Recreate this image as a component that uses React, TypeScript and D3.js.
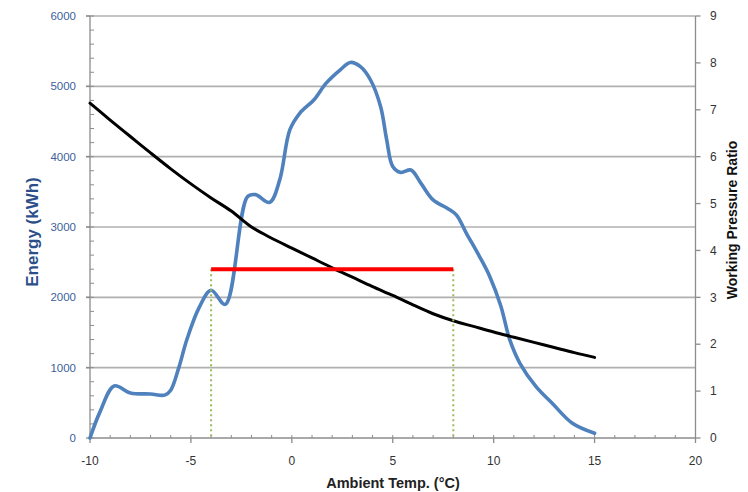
import React from "react";
import * as d3 from "d3";

const energyT = [-10, -9.5, -8.8, -8, -7, -6.3, -6, -5.6, -5.2, -4.6, -4, -3.3, -2.2, -1.8, -1.1, -0.6, -0.1, 0.4, 1.1, 1.7, 2.4, 2.9, 3.4, 3.9, 4.4, 4.7, 5.0, 5.4, 5.9, 6.4, 7.0, 7.7, 8.15, 8.65, 9.3, 9.8, 10.35, 10.8, 11.3, 12.1, 12.9, 13.9, 15];
const energyE = [0, 375, 740, 640, 625, 610, 680, 1000, 1400, 1850, 2100, 1900, 3430, 3460, 3350, 3670, 4380, 4620, 4810, 5045, 5235, 5340, 5280, 5090, 4710, 4240, 3860, 3775, 3810, 3620, 3385, 3267, 3172, 2911, 2580, 2300, 1880, 1394, 1062, 730, 494, 209, 67];

const ratioT = [-10, -9, -8, -7, -6, -5, -4, -3, -2, -1, 0, 1, 2, 3, 4, 5, 6, 7, 8, 9, 10, 11, 12, 13, 14, 15];
const ratioP = [7.14, 6.78, 6.43, 6.08, 5.74, 5.42, 5.12, 4.84, 4.5, 4.26, 4.05, 3.84, 3.63, 3.43, 3.23, 3.04, 2.84, 2.65, 2.5, 2.38, 2.26, 2.15, 2.04, 1.93, 1.82, 1.72];

const rangeT = [-4, 8];
const rangeE = 2400;

const xTicks = [-10, -5, 0, 5, 10, 15, 20];
const xMinor = d3.range(-10, 21, 1);
const yLeftTicks = [0, 1000, 2000, 3000, 4000, 5000, 6000];
const yLeftMinor = d3.range(0, 6001, 200);
const yRightTicks = [0, 1, 2, 3, 4, 5, 6, 7, 8, 9];

export default function App() {
  const W = 748, H = 492;
  const L = 90, R = 695.5, T = 16, B = 438;
  const x = d3.scaleLinear().domain([-10, 20]).range([L, R]);
  const yL = d3.scaleLinear().domain([0, 6000]).range([B, T]);
  const yR = d3.scaleLinear().domain([0, 9]).range([B, T]);

  const blueLine = d3.line<number>().x((_, i) => x(energyT[i])).y((d) => yL(d)).curve(d3.curveCatmullRom.alpha(0.5));
  const blackLine = d3.line<number>().x((_, i) => x(ratioT[i])).y((d) => yR(d)).curve(d3.curveCatmullRom.alpha(0.5));

  const font = "'Liberation Sans', Arial, sans-serif";
  return (
    <svg width={W} height={H} style={{ position: "absolute", left: 0, top: 0, background: "#fff" }} fontFamily={font}>
      {yLeftTicks.slice(1).map((v) => (
        <line key={"g" + v} x1={L - 4} x2={R} y1={yL(v)} y2={yL(v)} stroke="#b0b0b0" strokeWidth={1.6} />
      ))}
      <line x1={L} x2={L} y1={T} y2={B} stroke="#8c8c8c" strokeWidth={1.3} />
      {yLeftMinor.map((v) => (
        <line key={"lm" + v} x1={L} x2={L + 4} y1={yL(v)} y2={yL(v)} stroke="#8c8c8c" strokeWidth={1} />
      ))}
      {yLeftTicks.map((v) => (
        <g key={"lt" + v}>
          <line x1={L - 4} x2={L} y1={yL(v)} y2={yL(v)} stroke="#8c8c8c" strokeWidth={1.3} />
          <text x={76} y={yL(v)} dy="0.35em" textAnchor="end" fontSize={11.5} fill="#3d5f9c">{v}</text>
        </g>
      ))}
      <line x1={R} x2={R} y1={T} y2={B} stroke="#8c8c8c" strokeWidth={1.3} />
      {yRightTicks.map((v) => (
        <g key={"rt" + v}>
          <line x1={R} x2={R + 5} y1={yR(v)} y2={yR(v)} stroke="#8c8c8c" strokeWidth={1.3} />
          <text x={710} y={yR(v)} dy="0.35em" textAnchor="start" fontSize={12} fill="#333">{v}</text>
        </g>
      ))}
      <line x1={L} x2={R} y1={B} y2={B} stroke="#8c8c8c" strokeWidth={1.3} />
      {xMinor.map((v) => (
        <line key={"xm" + v} x1={x(v)} x2={x(v)} y1={B - 3} y2={B} stroke="#8c8c8c" strokeWidth={1} />
      ))}
      {xTicks.map((v) => (
        <g key={"xt" + v}>
          <line x1={x(v)} x2={x(v)} y1={B} y2={B + 5} stroke="#8c8c8c" strokeWidth={1.3} />
          <text x={x(v)} y={465} textAnchor="middle" fontSize={12} fill="#333">{v}</text>
        </g>
      ))}
      <path d={blueLine(energyE) || ""} fill="none" stroke="#4f81bd" strokeWidth={3.6} strokeLinejoin="round" strokeLinecap="round" />
      <path d={blackLine(ratioP) || ""} fill="none" stroke="#000" strokeWidth={3} strokeLinejoin="round" strokeLinecap="round" />
      {rangeT.map((t) => (
        <line key={"d" + t} x1={x(t)} x2={x(t)} y1={yL(rangeE)} y2={B} stroke="#9bbb59" strokeWidth={2} strokeDasharray="2,3" />
      ))}
      <line x1={x(rangeT[0])} x2={x(rangeT[1])} y1={yL(rangeE)} y2={yL(rangeE)} stroke="#ff0000" strokeWidth={4} />
      <text transform="translate(38,232) rotate(-90)" textAnchor="middle" fontSize={17} fontWeight="bold" fill="#2c4f8a">Energy (kWh)</text>
      <text transform="translate(737,220) rotate(-90)" textAnchor="middle" fontSize={14} fontWeight="bold" fill="#111">Working Pressure Ratio</text>
      <text x={393} y={488} textAnchor="middle" fontSize={14.5} fontWeight="bold" fill="#222">Ambient Temp. (°C)</text>
    </svg>
  );
}
